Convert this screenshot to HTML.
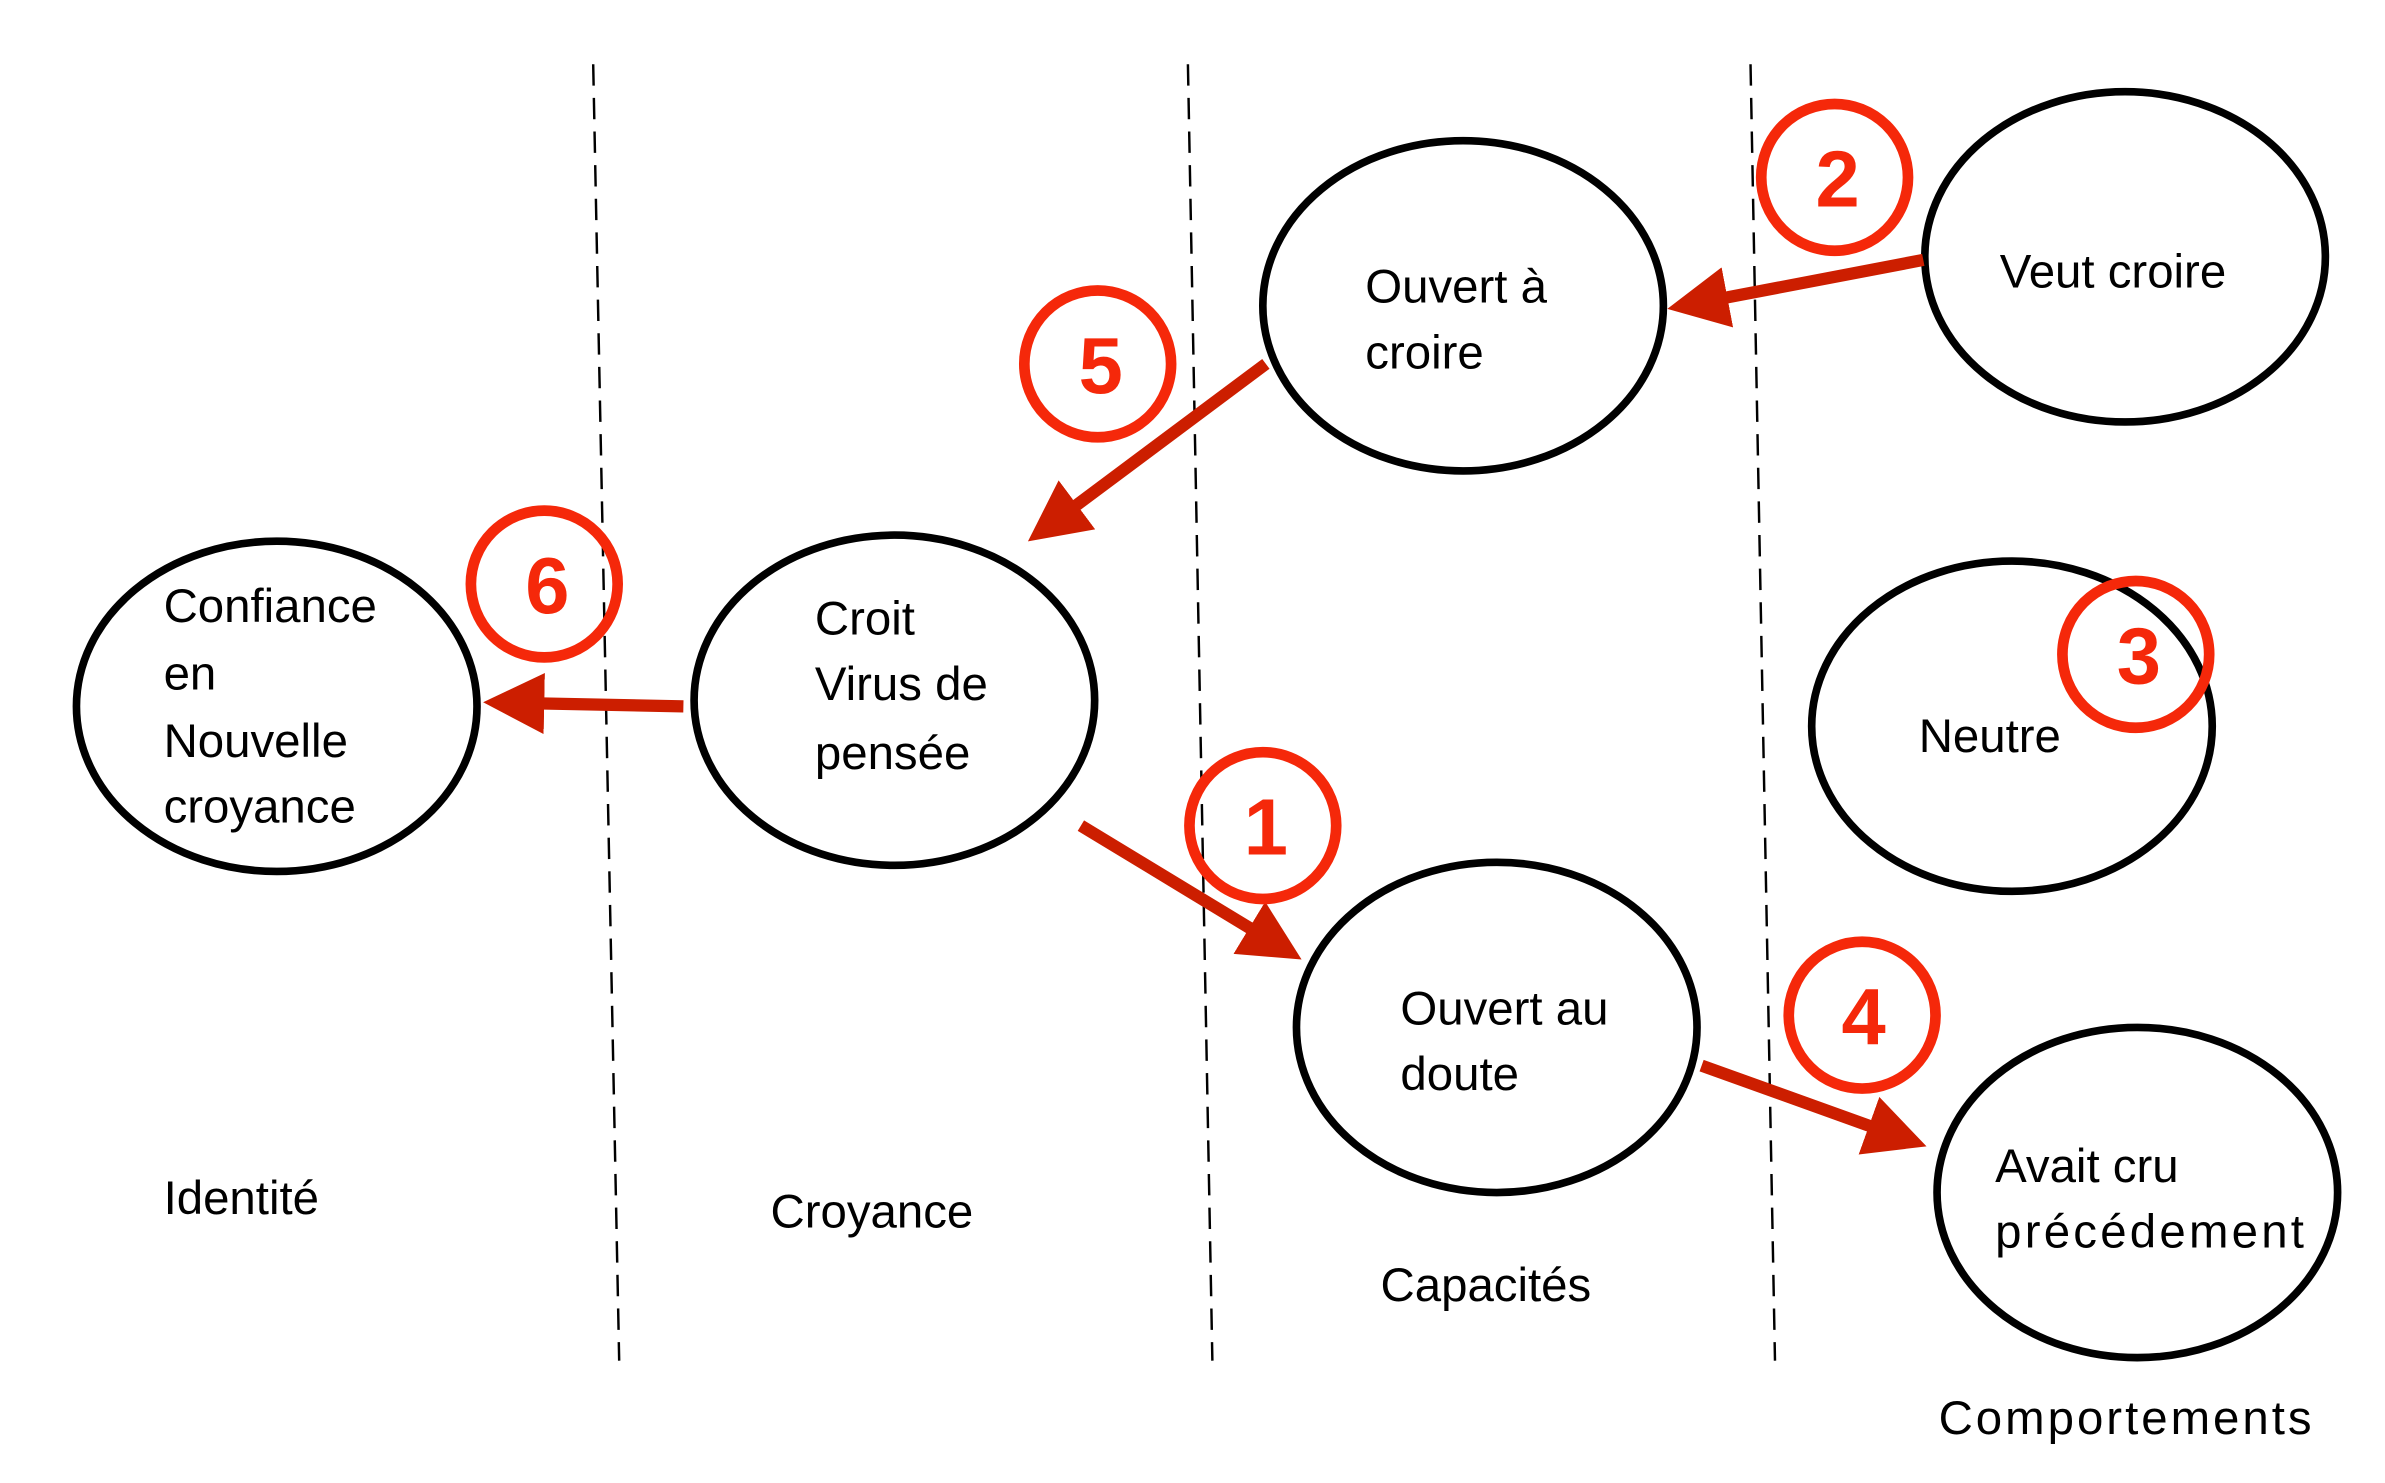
<!DOCTYPE html>
<html><head><meta charset="utf-8"><style>
html,body{margin:0;padding:0;background:#fff;}
svg{display:block;}
text{font-family:"Liberation Sans",sans-serif;}
</style></head><body>
<svg width="2385" height="1483" viewBox="0 0 1560 970" preserveAspectRatio="none" xmlns="http://www.w3.org/2000/svg">
<g stroke="#000" stroke-width="1.6" stroke-dasharray="14,8" fill="none">
<line x1="388" y1="42" x2="405" y2="890"/>
<line x1="777" y1="42" x2="793" y2="890"/>
<line x1="1145" y1="42" x2="1161" y2="890"/>
</g>
<g stroke="#000" stroke-width="5" fill="#fff">
<ellipse cx="181" cy="462" rx="131" ry="108"/>
<ellipse cx="585" cy="458" rx="131" ry="108"/>
<ellipse cx="957" cy="200" rx="131" ry="108"/>
<ellipse cx="1390" cy="168" rx="131" ry="108"/>
<ellipse cx="1316" cy="475" rx="131" ry="108"/>
<ellipse cx="979" cy="672" rx="131" ry="108"/>
<ellipse cx="1398" cy="780" rx="131" ry="108"/>
</g>
<g font-size="31" fill="#000">
<text x="107" y="407">Confiance</text>
<text x="107" y="451">en</text>
<text x="107" y="495">Nouvelle</text>
<text x="107" y="538">croyance</text>
<text x="533" y="415">Croit</text>
<text x="533" y="458">Virus de</text>
<text x="533" y="503">pensée</text>
<text x="893" y="198">Ouvert à</text>
<text x="893" y="241">croire</text>
<text x="1308" y="188">Veut croire</text>
<text x="1255" y="492">Neutre</text>
<text x="916" y="670">Ouvert au</text>
<text x="916" y="713">doute</text>
<text x="1305" y="773">Avait cru</text>
<text x="1305" y="816" textLength="202">précédement</text>
<text x="107" y="794">Identité</text>
<text x="504" y="803">Croyance</text>
<text x="903" y="851">Capacités</text>
<text x="1268" y="938" textLength="244">Comportements</text>
</g>
<defs>
<marker id="ah" markerWidth="5" markerHeight="5" refX="1" refY="2.5" orient="auto" markerUnits="strokeWidth">
<path d="M0,0 L5,2.5 L0,5 z" fill="#cc1e00"/>
</marker>
</defs>
<g stroke="#cc1e00" stroke-width="8" fill="none" marker-end="url(#ah)">
<line x1="1258" y1="170" x2="1122" y2="196"/>
<line x1="828" y1="238" x2="698" y2="335"/>
<line x1="447" y1="462" x2="348" y2="460"/>
<line x1="707" y1="540" x2="824" y2="611"/>
<line x1="1113" y1="697" x2="1230" y2="739"/>
</g>
<g stroke="#f5280a" stroke-width="7" fill="none">
<circle cx="1200" cy="116" r="48"/>
<circle cx="718" cy="238" r="48"/>
<circle cx="356" cy="382" r="48"/>
<circle cx="1397" cy="428" r="48"/>
<circle cx="826" cy="540" r="48"/>
<circle cx="1218" cy="664" r="48"/>
</g>
<g font-size="52" font-weight="bold" fill="#f5280a" text-anchor="middle">
<text x="1202" y="135">2</text>
<text x="720" y="257">5</text>
<text x="358" y="401">6</text>
<text x="1399" y="447">3</text>
<text x="828" y="559">1</text>
<text x="1219" y="683">4</text>
</g>
</svg>
</body></html>
